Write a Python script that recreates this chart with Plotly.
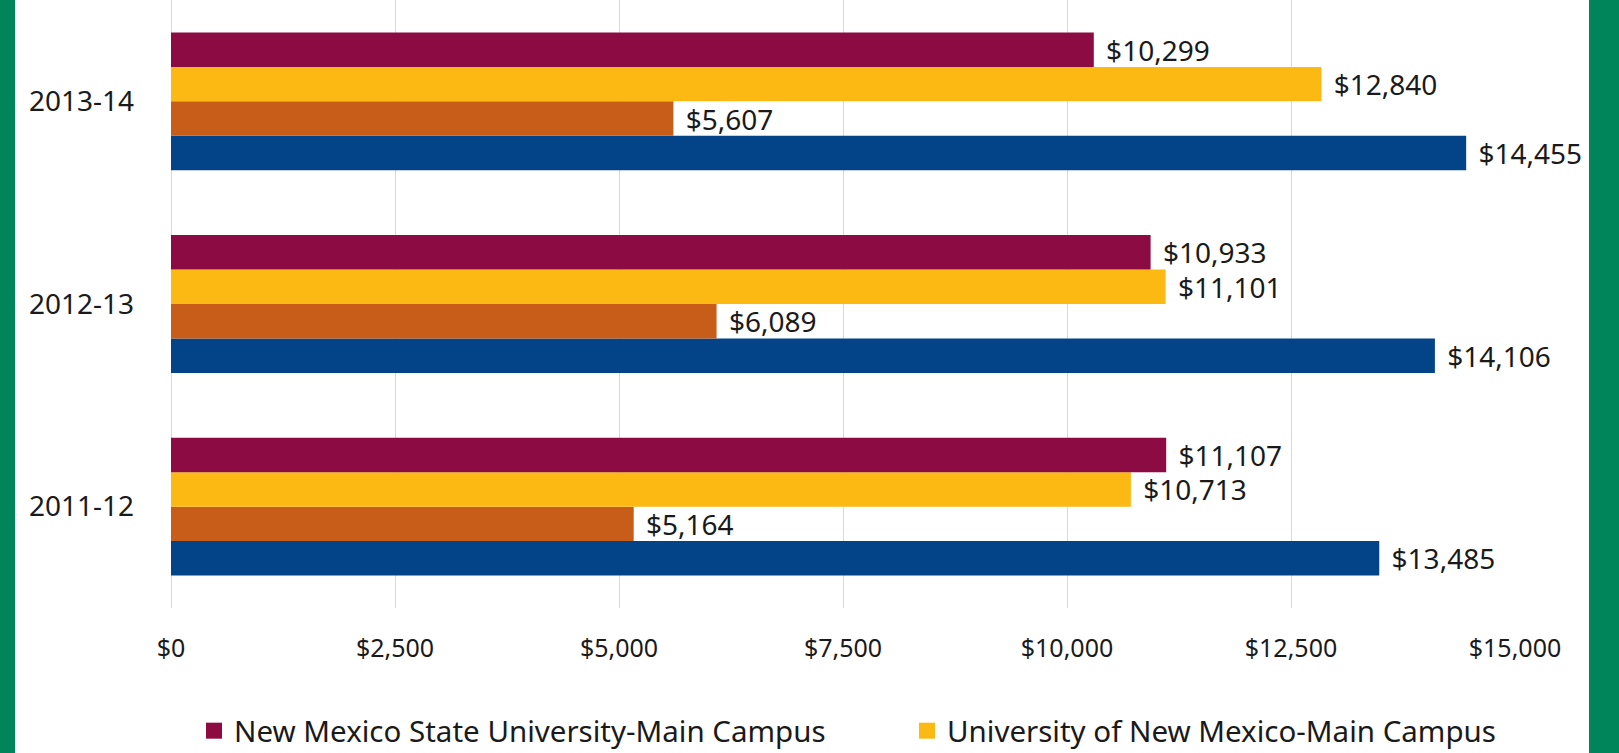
import plotly.graph_objects as go

categories = ["2011-12", "2012-13", "2013-14"]
nmsu = [11107, 10933, 10299]
unm = [10713, 11101, 12840]
series3 = [5164, 6089, 5607]
series4 = [13485, 14106, 14455]

names = ["New Mexico State University-Main Campus", "University of New Mexico-Main Campus",
         "Series 3", "Series 4"]
colors = ["#8B0B42", "#FDB913", "#C85C19", "#034488"]
values = [nmsu, unm, series3, series4]
tick_vals = [0, 2500, 5000, 7500, 10000, 12500, 15000]

FONT = "Noto Sans"
fig = go.Figure()
# add bottom-to-top so the first series sits on top of each group
for i in [3, 2, 1, 0]:
    fig.add_trace(go.Bar(
        y=categories, x=values[i], orientation="h", name=names[i],
        marker=dict(color=colors[i], line=dict(width=0)),
        text=["\u2004$" + f"{v:,}" for v in values[i]],
        textposition="outside", constraintext="none", cliponaxis=False,
        textfont=dict(family=FONT, size=28, color="#1a1a1a"),
        showlegend=False,
    ))
# legend entries (larger square swatches), each in its own legend box
for i, lg in [(0, "legend"), (1, "legend2")]:
    fig.add_trace(go.Scatter(
        x=[None], y=[None], mode="markers", name=names[i],
        marker=dict(symbol="square", size=18, color=colors[i]),
        showlegend=True, legend=lg,
    ))

W, H = 1619, 753
L, R, T, B = 171, 104, 0, 145
pw = W - L - R
ph = H - T - B

legend_common = dict(orientation="h", xref="container", yref="container",
                     xanchor="left", yanchor="middle", y=1 - 731 / H,
                     font=dict(family=FONT, size=29.5, color="#1a1a1a"),
                     bgcolor="rgba(0,0,0,0)", borderwidth=0)

fig.update_layout(
    width=W, height=H,
    margin=dict(l=L, r=R, t=T, b=B),
    barmode="group", bargap=0.32, bargroupgap=0,
    plot_bgcolor="white", paper_bgcolor="white",
    font=dict(family=FONT, color="#1a1a1a"),
    xaxis=dict(range=[0, 15000], tickvals=tick_vals, tickformat="$,.0f",
               showgrid=True, gridcolor="#D9D9D9", gridwidth=1,
               zeroline=True, zerolinecolor="#D9D9D9", zerolinewidth=1,
               showline=False, ticks="", ticklabelstandoff=23,
               tickfont=dict(family=FONT, size=25, color="#1a1a1a")),
    yaxis=dict(type="category", categoryorder="array", categoryarray=categories,
               showgrid=False, showline=False, ticks="", ticklabelstandoff=36,
               tickfont=dict(family=FONT, size=28, color="#1a1a1a")),
    legend=dict(x=194 / W, **legend_common),
    legend2=dict(x=907 / W, **legend_common),
    shapes=[
        dict(type="rect", xref="paper", yref="paper",
             x0=(0 - L) / pw, x1=(15 - L) / pw, y0=-B / ph, y1=1.0,
             fillcolor="#00855A", line=dict(width=0), layer="above"),
        dict(type="rect", xref="paper", yref="paper",
             x0=(1589 - L) / pw, x1=(1625 - L) / pw, y0=-B / ph, y1=1.0,
             fillcolor="#00855A", line=dict(width=0), layer="above"),
    ],
)

fig.write_html("out.html", config={"displayModeBar": False},
               post_script="document.body.style.margin='0';")
